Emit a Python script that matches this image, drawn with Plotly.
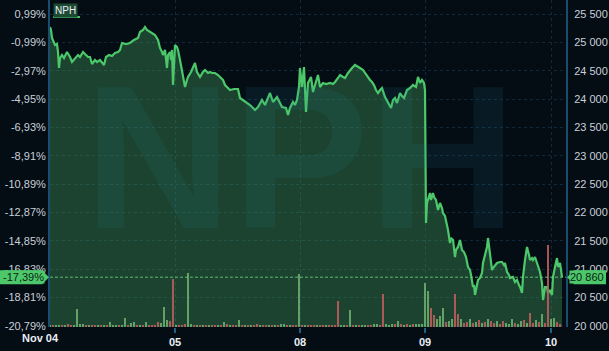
import plotly.graph_objects as go

# ---- data ----
# bar index within the session (intraday bars, gaps removed); day starts at 0,125,250,375,501
bar_idx = [0,1,2,4,5,7,8,9,10,12,14,17,20,22,25,28,30,33,36,38,40,42,45,47,50,52,54,56,59,62,65,68,70,72,76,80,84,88,90,93,95,97,100,103,105,108,110,112,113,115,116,117,118,120,121,122,123,124,125,127,128,
           130,132,134,135,137,138,141,143,145,147,150,153,155,158,160,162,165,168,170,173,175,178,180,184,188,190,193,195,198,200,203,205,208,210,212,215,218,220,223,225,227,230,232,236,238,240,243,245,247,249,
           250,252,254,256,258,261,263,265,268,270,273,276,280,283,285,288,290,293,295,298,300,302,305,307,310,313,315,318,320,322,324,326,328,330,332,335,338,341,343,345,347,350,352,354,357,360,363,366,368,370,372,374,
           375,376,377,379,380,381,383,384,386,388,390,392,393,395,396,398,400,401,403,405,406,408,410,412,414,416,418,420,421,422,423,424,425,427,428,430,432,433,435,437,438,439,440,442,443,445,447,450,452,454,455,457,459,460,462,463,465,467,469,470,472,473,475,477,479,480,482,483,485,487,489,490,492,493,495,497,498,500,502,503,505,507,508,510,511,512]
price = [25271,25218,25077,25007,24954,24971,24830,24548,24724,24777,24724,24830,24742,24654,24724,24777,24742,24830,24777,24742,24742,24619,24689,24654,24689,24654,24601,24742,24777,24760,24813,24830,24866,24989,24971,24989,25042,25077,25183,25218,25271,25218,25183,25148,25130,25042,24901,24830,24777,24866,24724,24548,24777,24830,24689,24866,24248,24777,24954,24918,24866,
         24689,24513,24337,24213,24337,24390,24478,24548,24636,24478,24390,24478,24513,24460,24478,24460,24460,24425,24390,24337,24248,24195,24160,24178,24178,24019,23984,23949,23914,23896,23843,23808,23861,23931,23984,23896,24019,24107,23949,23984,24037,23931,23861,23843,23719,23843,23949,23896,23984,24213,
         24548,24213,24566,23772,24284,24390,24125,24248,24425,24213,24284,24266,24284,24266,24301,24372,24425,24390,24372,24460,24513,24548,24601,24583,24548,24513,24460,24372,24337,24301,24248,24160,24107,24160,24195,24037,23949,23843,23984,24019,23931,24107,24054,24019,24160,24195,24248,24213,24390,24284,24337,24284,
         24160,21816,22168,22274,22344,22221,22344,22274,22221,22044,22168,22080,21992,21939,21868,21692,21463,21551,21516,21216,21340,21393,21516,21340,21304,21216,21040,20987,20899,20811,20687,20722,20546,20722,20811,20846,20934,21110,21251,21393,21551,21428,21216,20987,21022,21075,21110,21128,21128,21075,21110,20952,20899,20846,20864,20864,20775,20811,20722,20687,20581,20864,21163,21393,21251,21163,21198,21163,21216,21110,21022,20952,20757,20458,20687,20687,20581,20634,20546,20864,21040,21198,21040,21110,20987,20860]

vol_idx = list(range(0, 511, 3))
volume = [2,2,2,2,2,2,3,2,2,18,3,3,2,2,2,2,2,2,2,2,5,2,2,2,2,9,2,4,5,2,2,2,5,2,2,2,5,4,20,7,6,48,2,2,2,3,54,3,2,2,2,2,2,2,2,2,2,2,5,3,
          2,2,2,7,2,2,2,2,2,3,2,2,2,2,2,2,2,3,3,2,2,2,2,53,2,2,2,2,2,2,2,2,2,2,2,2,26,2,2,2,17,2,2,2,2,2,2,2,3,3,2,33,3,2,3,3,6,3,2,3,
          2,3,3,3,3,44,36,19,12,8,11,19,5,6,8,33,13,8,4,5,8,4,5,7,4,5,8,6,4,6,3,6,4,3,8,4,3,6,7,4,14,4,7,5,13,4,82,8,9,5,3]
vol_dir = "grggrgrrggggrgrrgrgrgggrggrggrgrgrrrrgggrrgrrr" \
          "ggrgrgrgrrgrgrgrrgrgrgrrgrrgrgrggrgrrgrgrrrgrrgrrrrggrgrgrggrrggrr" \
          "gggrgrgrgrgggggrrgggrggrrgrrgrgrgrgrrgrrgggrggrgrrgrgrrggrrgggr"
day_ticks = [125, 250, 375, 501]
day_labels = ["05", "08", "09", "10"]
first_day_label = "Nov 04"
price_levels = [20000, 20500, 21000, 21500, 22000, 22500, 23000, 23500, 24000, 24500, 25000, 25500]
price_labels = ["20 000", "20 500", "21 000", "21 500", "22 000", "22 500", "23 000", "23 500", "24 000", "24 500", "25 000", "25 500"]
pct_labels = ["-20,79%", "-18,81%", "-16,83%", "-14,85%", "-12,87%", "-10,89%", "-8,91%", "-6,93%", "-4,95%", "-2,97%", "-0,99%", "0,99%"]
last_price = 20860
last_price_label = "20 860"
last_pct_label = "-17,39%"
ticker = "NPH"

BG = "#040c14"
LINE = "#4cc86a"
GRID = "#10283a"
FONT = "Liberation Sans"
YR = [19982, 25747]

vol_dir = (vol_dir + "g" * len(volume))[:len(volume)]
vol_colors = ["rgba(112,178,112,0.85)" if c == "g" else "rgba(188,92,92,0.9)" for c in vol_dir]

fig = go.Figure()
fig.add_trace(go.Scatter(x=bar_idx, y=price, mode="lines", line=dict(color=LINE, width=2.2),
                         fill="tozeroy", fillcolor="rgba(70,166,100,0.36)", yaxis="y", hoverinfo="skip"))
fig.add_trace(go.Bar(x=vol_idx, y=volume, marker=dict(color=vol_colors, line=dict(width=0)),
                     width=2.6, yaxis="y3", hoverinfo="skip"))

fig.update_layout(
    width=609, height=351, margin=dict(l=50, r=43, t=0, b=24),
    paper_bgcolor=BG, plot_bgcolor=BG, showlegend=False, bargap=0,
    font=dict(family=FONT, size=11, color="#c8d0d8"),
    xaxis=dict(range=[0, 516], tickvals=day_ticks, ticktext=day_labels, showgrid=True,
               gridcolor=GRID, griddash="dot", gridwidth=1, zeroline=False,
               ticks="outside", ticklen=5, tickcolor="#1d5f8a", tickwidth=2,
               tickfont=dict(family=FONT, size=11, color="#e8eef4", weight="bold"), showline=False),
    yaxis=dict(range=YR, side="right", tickvals=price_levels, ticktext=price_labels,
               showgrid=True, gridcolor=GRID, griddash="dot", zeroline=False,
               showline=True, linecolor="#1b4d6e", linewidth=2, ticks="", ticklabelstandoff=4,
               tickfont=dict(family=FONT, size=11, color="#c8d0d8")),
    yaxis2=dict(range=YR, side="left", overlaying="y", tickvals=price_levels, ticktext=pct_labels,
                showgrid=False, zeroline=False, showline=True, linecolor="#1b4d6e", linewidth=2,
                ticks="", tickfont=dict(family=FONT, size=11, color="#c8d0d8")),
    yaxis3=dict(range=[0, 327], overlaying="y", visible=False),
)
fig.add_trace(go.Scatter(x=[0], y=[YR[0]], yaxis="y2", mode="markers", marker=dict(opacity=0), hoverinfo="skip"))

# watermark
fig.add_annotation(text="<b>" + ticker + "</b>", xref="paper", yref="paper", x=0.485, y=0.52,
                   showarrow=False, font=dict(family=FONT, size=205, color="rgba(40,130,150,0.13)"))
# legend chip
fig.add_annotation(text=ticker, xref="paper", yref="paper", x=0.005, y=1, xanchor="left", yanchor="top",
                   yshift=-3, showarrow=False, bgcolor="#1d4a33", borderpad=1,
                   font=dict(family=FONT, size=10, color="#e8eef4"))
fig.add_shape(type="line", xref="paper", yref="paper", x0=0.006, x1=0.058, y0=1 - 17 / 327, y1=1 - 17 / 327,
              line=dict(color=LINE, width=2))
# last price line
fig.add_shape(type="line", xref="paper", yref="y", x0=0, x1=1, y0=last_price, y1=last_price,
              line=dict(color="rgba(110,210,130,0.85)", width=1, dash="3px,2px"))
# price tags
fig.add_shape(type="path", xref="paper", yref="y", xsizemode="pixel", ysizemode="pixel",
              xanchor=1, yanchor=last_price, path="M1,0 L8,7 L40,7 L40,-7 L8,-7 Z",
              fillcolor=LINE, line=dict(width=0), layer="above")
fig.add_shape(type="path", xref="paper", yref="y", xsizemode="pixel", ysizemode="pixel",
              xanchor=0, yanchor=last_price, path="M-1,0 L-8,7 L-50,7 L-50,-7 L-8,-7 Z",
              fillcolor=LINE, line=dict(width=0), layer="above")
fig.add_annotation(text=last_price_label, xref="paper", yref="y", x=1, y=last_price, xanchor="center",
                   xshift=21, showarrow=False, bgcolor=LINE, borderpad=0,
                   font=dict(family=FONT, size=11, color="#0c2416"))
fig.add_annotation(text=last_pct_label, xref="paper", yref="y", x=0, y=last_price, xanchor="center",
                   xshift=-27, showarrow=False, bgcolor=LINE, borderpad=0,
                   font=dict(family=FONT, size=11, color="#0c2416"))
# first day label
fig.add_annotation(text="<b>" + first_day_label + "</b>", xref="paper", yref="paper", x=-0.058, y=0,
                   yanchor="top", yshift=-3, showarrow=False, font=dict(family=FONT, size=11, color="#e8eef4"))

fig.write_html("out.html")
